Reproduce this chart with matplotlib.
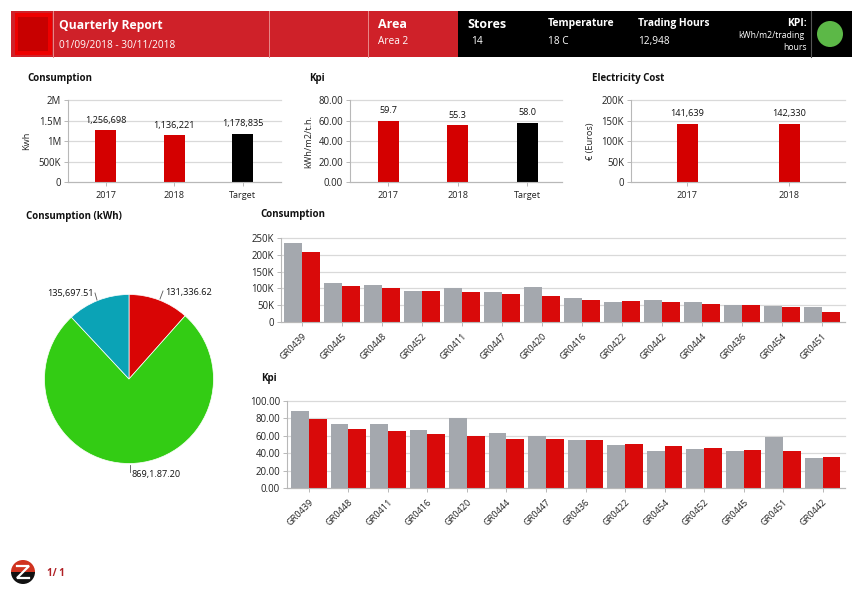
import matplotlib
matplotlib.use("Agg")
import matplotlib.pyplot as plt
from matplotlib.patches import Rectangle, Circle, Wedge

plt.rcParams["font.family"] = ["Open Sans", "DejaVu Sans"]

W, H = 862, 595

# data
years = ["2017", "2018", "Target"]
consumption_top = [1256698, 1136221, 1178835]
consumption_top_labels = ["1,256,698", "1,136,221", "1,178,835"]
kpi_top = [59.7, 55.3, 58.0]
kpi_top_labels = ["59.7", "55.3", "58.0"]
cost_years = ["2017", "2018"]
cost = [141639, 142330]
cost_labels = ["141,639", "142,330"]

pie_values = [131336.62, 869187.20, 135697.51]

stores_cons = ["GR0439", "GR0445", "GR0448", "GR0452", "GR0411", "GR0447", "GR0420",
               "GR0416", "GR0422", "GR0442", "GR0444", "GR0436", "GR0454", "GR0451"]
cons_prev = [235, 115, 110, 93, 100, 90, 105, 70, 61, 65, 61, 52, 47, 45]
cons_curr = [207, 106, 102, 93, 88, 83, 76, 65, 63, 60, 54, 51, 46, 31]

stores_kpi = ["GR0439", "GR0448", "GR0411", "GR0416", "GR0420", "GR0444", "GR0447",
              "GR0436", "GR0422", "GR0454", "GR0452", "GR0445", "GR0451", "GR0442"]
kpi_prev = [88, 73, 73, 66.5, 81, 63.5, 59.5, 55.5, 49, 42, 45, 43, 59, 34.5]
kpi_curr = [79.5, 68, 66, 62.5, 59.5, 56.5, 56, 55.5, 51, 48, 45.5, 44, 42.5, 35.5]

C_RED = "#d90a0a"
C_GREY = "#a4a8ae"
C_GRID = "#d9d9d9"
C_AXIS = "#b8b8b8"
C_TEXT = "#222222"
FS = 6.6

fig = plt.figure(figsize=(W / 100, H / 100), dpi=100)


def px_axes(x0, y0, x1, y1):
    # axes from pixel box, y counted from the top of the image
    return fig.add_axes([x0 / W, 1 - y1 / H, (x1 - x0) / W, (y1 - y0) / H])


def style(ax, yticks, ylabels):
    for s in ("top", "right"):
        ax.spines[s].set_visible(False)
    ax.spines["left"].set_color(C_AXIS)
    ax.spines["bottom"].set_color(C_AXIS)
    ax.spines["left"].set_linewidth(0.8)
    ax.spines["bottom"].set_linewidth(0.8)
    ax.set_yticks(yticks)
    ax.set_yticklabels(ylabels, fontsize=FS + 0.3, color=C_TEXT)
    ax.set_ylim(yticks[0], yticks[-1])
    ax.grid(axis="y", color=C_GRID, linewidth=0.9, clip_on=False)
    ax.set_axisbelow(True)
    ax.tick_params(axis="both", color=C_AXIS, length=3, width=0.7, pad=2)


def small_chart(box, cats, values, labels, colors, width_px, step_px, first_px,
                yticks, ylabels, ylabel, ylabel_x):
    ax = px_axes(*box)
    xs = list(range(len(cats)))
    ax.bar(xs, values, width=width_px / step_px, color=colors, zorder=2)
    ax.set_xlim((box[0] - first_px) / step_px, (box[2] - first_px) / step_px)
    style(ax, yticks, ylabels)
    ax.set_xticks(xs)
    ax.set_xticklabels(cats, fontsize=FS, color=C_TEXT)
    ax.tick_params(axis="x", pad=3.5)
    for x, v, t in zip(xs, values, labels):
        ax.annotate(t, (x, v), xytext=(0, 4), textcoords="offset points",
                    ha="center", va="bottom", fontsize=FS, color="#111111")
    fig.text(ylabel_x / W, 1 - (box[1] + box[3]) / 2 / H, ylabel, rotation=90,
             ha="center", va="center", fontsize=FS, color=C_TEXT)
    return ax


def group_chart(box, cats, prev, curr, first_px, step_px, bar_px, yticks, ylabels):
    ax = px_axes(*box)
    xs = list(range(len(cats)))
    w = bar_px / step_px
    ax.bar([x - w / 2 for x in xs], prev, width=w, color=C_GREY, zorder=2)
    ax.bar([x + w / 2 for x in xs], curr, width=w, color=C_RED, zorder=2)
    ax.set_xlim((box[0] - first_px) / step_px, (box[2] - first_px) / step_px)
    style(ax, yticks, ylabels)
    ax.set_xticks(xs)
    ax.set_xticklabels(cats, fontsize=FS, color=C_TEXT, rotation=45, ha="right",
                       rotation_mode="anchor")
    ax.tick_params(axis="x", pad=4)
    return ax


# top row
small_chart((68, 100, 281, 182), years, consumption_top, consumption_top_labels,
            ["#d40000", "#d40000", "#000000"], 21, 68.3, 106,
            [0, 500000, 1000000, 1500000, 2000000], ["0", "500K", "1M", "1.5M", "2M"],
            "Kwh", 27)
small_chart((350, 100, 562, 182), years, kpi_top, kpi_top_labels,
            ["#d40000", "#d40000", "#000000"], 21, 69.5, 388,
            [0, 20, 40, 60, 80], ["0.00", "20.00", "40.00", "60.00", "80.00"],
            "kWh/m2/t.h.", 309)
small_chart((631, 100, 845, 182), cost_years, cost, cost_labels,
            ["#d40000", "#d40000"], 21, 102, 687,
            [0, 50000, 100000, 150000, 200000], ["0", "50K", "100K", "150K", "200K"],
            "€ (Euros)", 591)

# store charts
group_chart((281, 238, 845, 322), stores_cons, cons_prev, cons_curr, 302, 40, 18,
            [0, 50, 100, 150, 200, 250], ["0", "50K", "100K", "150K", "200K", "250K"])
group_chart((287, 401, 845, 488), stores_kpi, kpi_prev, kpi_curr, 309, 39.5, 17.7,
            [0, 20, 40, 60, 80, 100], ["0.00", "20.00", "40.00", "60.00", "80.00", "100.00"])

# pie
pie_ax = px_axes(29, 279, 229, 479)
pie_ax.pie(pie_values, colors=["#d90505", "#33cc14", "#0ba3b6"], startangle=90,
           counterclock=False, radius=0.845, wedgeprops=dict(edgecolor="white", linewidth=0.5))
pie_ax.set_xlim(-1, 1)
pie_ax.set_ylim(-1, 1)

# page furniture, drawn in pixel coordinates
bg = fig.add_axes([0, 0, 1, 1], zorder=5)
bg.set_xlim(0, W)
bg.set_ylim(H, 0)
bg.axis("off")
bg.patch.set_alpha(0)

bg.add_patch(Rectangle((11, 11), 447, 46, color="#cf2129", lw=0))
bg.add_patch(Rectangle((458, 11), 394, 46, color="#000000", lw=0))
bg.add_patch(Rectangle((15, 13), 37, 42, color="#ee0000", lw=0))
bg.add_patch(Rectangle((18, 17), 30, 34, color="#c80000", lw=0))
for x in (53, 269, 368):
    bg.plot([x, x], [11, 57], color="#e88a8a", lw=0.7)
bg.plot([811, 811], [11, 57], color="#555555", lw=0.8)
bg.add_patch(Circle((830, 34), 13, color="#5cb847", lw=0))


def t(x, y, s, size=FS, weight="normal", color="white", ha="left", **kw):
    bg.text(x, y, s, fontsize=size, fontweight=weight, color=color, ha=ha, va="center", **kw)


t(59, 25, "Quarterly Report", 8.7, "bold")
t(59, 45.5, "01/09/2018 - 30/11/2018", 7.3)
t(378, 25, "Area", 9, "bold")
t(378, 41.5, "Area 2", 7.3)
t(467, 25, "Stores", 9, "bold")
t(471, 42, "14", 7.3)
t(548, 23.5, "Temperature", 7.5, "bold")
t(548, 41.5, "18 C", 7.3)
t(638, 23.5, "Trading Hours", 7.4, "bold")
t(638, 41.5, "12,948", 7.3)
t(807, 23.5, "KPI:", 7.5, "bold", ha="right")
t(804, 36, "kWh/m2/trading", 6.2, ha="right")
t(807, 47, "hours", 6.2, ha="right")

t(27.5, 78, "Consumption", 7, "bold", "#111111")
t(309.5, 78, "Kpi", 7, "bold", "#111111")
t(592, 78, "Electricity Cost", 7, "bold", "#111111")
t(26.5, 216, "Consumption (kWh)", 7, "bold", "#111111")
t(260.5, 214, "Consumption", 7, "bold", "#111111")
t(261.5, 378, "Kpi", 7, "bold", "#111111")

# pie labels and leader lines
t(165, 292.5, "131,336.62", FS, color="#111111")
t(47, 293.5, "135,697.51", FS, color="#111111")
t(132, 474, "869,1.87.20", FS, color="#111111")
bg.plot([160, 163], [299, 291], color="#555555", lw=0.6)
bg.plot([97, 95], [300, 293], color="#555555", lw=0.6)
bg.plot([130, 130], [465, 472], color="#555555", lw=0.6)

# logo and page number
bg.add_patch(Wedge((23, 572), 12, 0, 180, color="#111111", lw=0))
bg.add_patch(Wedge((23, 572), 12, 180, 360, color="#d0331f", lw=0))
bg.plot([17, 29, 17, 29], [566, 566, 578, 578], color="white", lw=1.6, solid_joinstyle="miter")
t(47, 574, "1/ 1", 7, "bold", "#b02025")

fig.savefig("out.png", dpi=100)
